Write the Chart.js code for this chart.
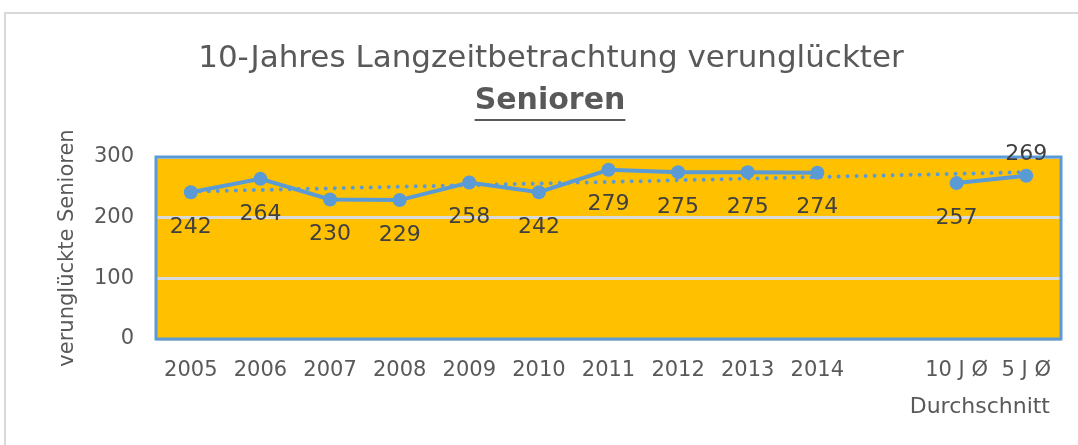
<!DOCTYPE html>
<html>
<head>
<meta charset="utf-8">
<script src="https://cdn.jsdelivr.net/npm/chart.js@4/dist/chart.umd.min.js"></script>
<style>
  html, body { margin: 0; padding: 0; background: #ffffff; overflow: hidden; }
  #wrap { width: 1078px; height: 445px; }
</style>
</head>
<body>
<div id="wrap"><canvas id="chart_senioren" width="1078" height="445"></canvas></div>
<script>
// Werte aus der Grafik
var kategorien = ["2005", "2006", "2007", "2008", "2009", "2010", "2011", "2012", "2013", "2014", "", "10 J Ø", "5 J Ø"];
var senioren = [242, 264, 230, 229, 258, 242, 279, 275, 275, 274, null, 257, 269];
var trend = [243, null, null, null, null, null, null, null, null, null, null, null, 275];
var yTicks = [0, 100, 200, 300];

var titelZeile1 = "10-Jahres Langzeitbetrachtung verunglückter";
var titelZeile2 = "Senioren";
var durchschnittText = "Durchschnitt";

var FONT = "'DejaVu Sans', 'Liberation Sans', sans-serif";
var BLAU = "#5B9BD5";
var ORANGE = "#FFC000";
var GRAU = "#595959";

// Hintergrund, Rahmen und Titel
var hintergrund = {
    id: 'hintergrund',
    beforeDraw: function(chart) {
        var ctx = chart.ctx, a = chart.chartArea;
        ctx.save();
        // aeusserer Diagrammrahmen
        ctx.strokeStyle = "#D9D9D9";
        ctx.lineWidth = 2;
        ctx.beginPath();
        ctx.moveTo(5, chart.height + 5);
        ctx.lineTo(5, 13);
        ctx.lineTo(chart.width + 5, 13);
        ctx.stroke();
        // Zeichenflaeche
        ctx.fillStyle = ORANGE;
        ctx.fillRect(a.left, a.top, a.right - a.left, a.bottom - a.top);
        // Titel
        ctx.fillStyle = GRAU;
        ctx.textAlign = 'center';
        ctx.textBaseline = 'middle';
        ctx.font = "31px " + FONT;
        ctx.fillText(titelZeile1, 551, 59);
        ctx.font = "bold 30px " + FONT;
        ctx.fillText(titelZeile2, 550, 101);
        var w = ctx.measureText(titelZeile2).width;
        ctx.fillRect(550 - w / 2, 119, w, 2);
        ctx.restore();
    },
    beforeDatasetsDraw: function(chart) {
        var ctx = chart.ctx, a = chart.chartArea;
        ctx.save();
        ctx.strokeStyle = BLAU;
        ctx.lineWidth = 3;
        ctx.strokeRect(a.left, a.top, a.right - a.left, a.bottom - a.top);
        ctx.restore();
    }
};

// Datenbeschriftungen (unter den Punkten, letzter Punkt darueber)
var beschriftung = {
    id: 'beschriftung',
    afterDatasetsDraw: function(chart) {
        var ctx = chart.ctx;
        var meta = chart.getDatasetMeta(0);
        ctx.save();
        ctx.fillStyle = "#404040";
        ctx.font = "22px " + FONT;
        ctx.textAlign = 'center';
        ctx.textBaseline = 'middle';
        meta.data.forEach(function(pt, i) {
            var v = senioren[i];
            if (v === null) return;
            var dy = (i === senioren.length - 1) ? -22 : 35;
            ctx.fillText(String(v), pt.x, pt.y + dy);
        });
        // zweite Zeile unter den Durchschnittswerten
        ctx.fillStyle = GRAU;
        ctx.font = "22px " + FONT;
        ctx.textAlign = 'right';
        ctx.fillText(durchschnittText, chart.scales.x.right - 11, 407);
        ctx.restore();
    }
};

var ctx_sen = document.getElementById("chart_senioren");

const chart_senioren = new Chart(ctx_sen, {
    type: 'line',
    data: {
        labels: kategorien,
        datasets: [
            {
                label: "Senioren",
                data: senioren,
                borderColor: BLAU,
                backgroundColor: BLAU,
                borderWidth: 4,
                pointRadius: 7,
                pointHoverRadius: 7,
                pointBackgroundColor: BLAU,
                pointBorderWidth: 0,
                spanGaps: false,
                tension: 0,
                order: 0
            },
            {
                label: "Trend",
                data: trend,
                borderColor: BLAU,
                borderWidth: 4,
                borderDash: [0, 9],
                borderCapStyle: 'round',
                pointRadius: 0,
                spanGaps: true,
                order: 1
            }
        ]
    },
    options: {
        responsive: false,
        animation: false,
        devicePixelRatio: 1,
        layout: {
            padding: { top: 157, left: 41, right: 17, bottom: 0 }
        },
        plugins: {
            legend: { display: false },
            tooltip: { enabled: false },
            title: { display: false }
        },
        scales: {
            x: {
                offset: true,
                grid: { display: false, drawTicks: false },
                border: { display: false },
                ticks: {
                    color: GRAU,
                    padding: 19,
                    autoSkip: false,
                    maxRotation: 0,
                    font: { family: FONT, size: 21 }
                },
                afterFit: function(scale) { scale.height = 106; }
            },
            y: {
                min: 0,
                max: 300,
                afterBuildTicks: function(scale) {
                    scale.ticks = yTicks.map(function(v) { return { value: v }; });
                },
                grid: {
                    color: "#D9D9D9",
                    lineWidth: 3,
                    drawTicks: false
                },
                border: { display: false },
                ticks: {
                    color: GRAU,
                    padding: 22,
                    font: { family: FONT, size: 21 }
                },
                title: {
                    display: true,
                    text: 'verunglückte Senioren',
                    color: GRAU,
                    padding: { top: 14, bottom: 0 },
                    font: { family: FONT, size: 21 }
                },
                afterFit: function(scale) { scale.width = 115; }
            }
        }
    },
    plugins: [hintergrund, beschriftung]
});
</script>
</body>
</html>
